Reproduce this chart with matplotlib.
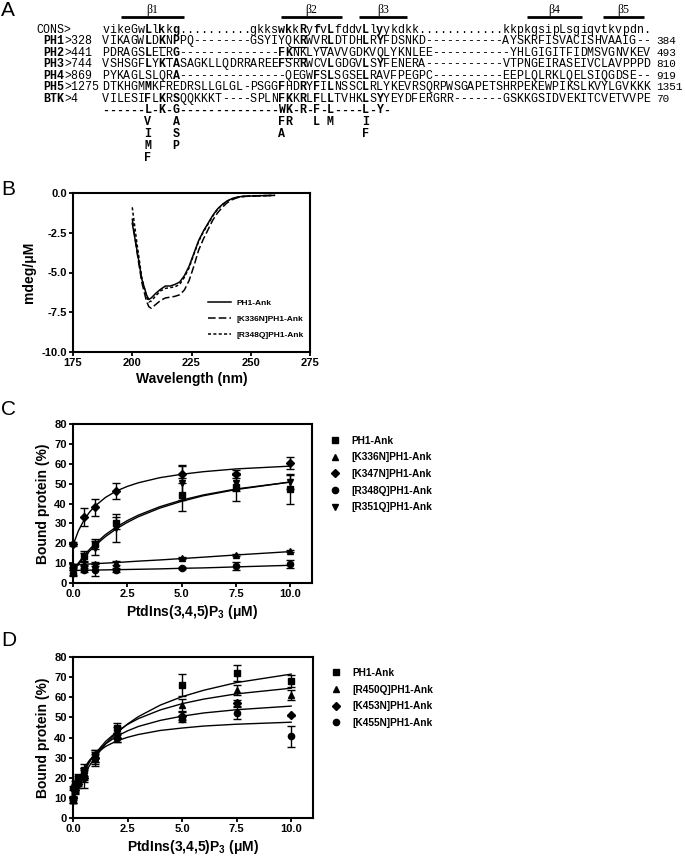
import matplotlib
matplotlib.use('Agg')
import matplotlib.pyplot as plt
from matplotlib.lines import Line2D

plt.rcParams['font.family'] = ['Liberation Sans', 'DejaVu Sans']
plt.rcParams['font.weight'] = 'bold'
plt.rcParams['axes.labelweight'] = 'bold'
plt.rcParams['mathtext.fontset'] = 'custom'
plt.rcParams['mathtext.rm'] = 'Liberation Sans:bold'
plt.rcParams['mathtext.default'] = 'rm'

# ---------------- panel A: alignment ----------------
seq_names = ['CONS', 'PH1', 'PH2', 'PH3', 'PH4', 'PH5', 'BTK']
seq_starts = ['', '328', '441', '744', '869', '1275', '4']
seq_ends = ['', '384', '493', '810', '919', '1351', '70']
seqs = [
    'vikeGwLlkkg..........gkkswkkRyfvLfddvLlyykdkk............kkpkgsipLsgiqvtkvpdn.',
    'VIKAGWLDKNPPQ--------GSYIYQKRWVRLDTDHLRYFDSNKD-----------AYSKRFISVACISHVAAIG--',
    'PDRAGSLELRG--------------FKNKLYVAVVGDKVQLYKNLEE-----------YHLGIGITFIDMSVGNVKEV',
    'VSHSGFLYKTASAGKLLQDRRAREEFSRRWCVLGDGVLSYFENERA-----------VTPNGEIRASEIVCLAVPPPD',
    'PYKAGLSLQRA---------------QEGWFSLSGSELRAVFPEGPC----------EEPLQLRKLQELSIQGDSE--',
    'DTKHGMMKFREDRSLLGLGL-PSGGFHDRYFILNSSCLRLYKEVRSQRPWSGAPETSHRPEKEWPIKSLKVYLGVKKK',
    'VILESIFLKRSQQKKKT----SPLNFKKRLFLLTVHKLSYYEYDFERGRR-------GSKKGSIDVEKITCVETVVPE',
]
consensus_rows = [
    '------L-K-G--------------WK-R-F-L----L-Y-',
    '      V   A              FR   L M    I',
    '      I   S              A           F',
    '      M   P',
    '      F',
]
# underlined residues: (row index, column)
underlined = [(1, 9), (1, 28), (1, 29), (1, 32), (2, 10), (2, 27), (2, 29)]
# beta strands as column spans
strand_names = ['β1', 'β2', 'β3', 'β4', 'β5']
strand_cols = [(2.6, 11.6), (25.5, 34.1), (36.6, 43.4), (60.5, 68.3), (71.3, 77.1)]

# ---------------- panel B: CD spectra ----------------
wavelength = [200, 202, 204, 206, 207, 208, 210, 212, 214, 216, 218, 220, 222, 224,
              226, 228, 230, 232, 234, 236, 238, 240, 242, 244, 246, 248, 250, 254, 260]
cd_ph1 = [-1.9, -3.6, -5.4, -6.4, -6.7, -6.6, -6.3, -6.05, -5.85, -5.85, -5.75, -5.6, -5.2, -4.6,
          -3.8, -3.0, -2.4, -1.9, -1.4, -1.0, -0.72, -0.5, -0.36, -0.27, -0.22, -0.2, -0.19, -0.17, -0.15]
cd_k336n = [-1.6, -3.7, -5.6, -6.8, -7.15, -7.25, -7.0, -6.75, -6.6, -6.55, -6.5, -6.4, -6.1, -5.5,
            -4.6, -3.6, -2.9, -2.3, -1.7, -1.25, -0.9, -0.62, -0.43, -0.31, -0.24, -0.21, -0.2, -0.18, -0.15]
cd_r348q = [-0.9, -3.2, -5.3, -6.5, -6.85, -6.8, -6.45, -6.15, -6.0, -5.95, -5.9, -5.75, -5.3, -4.7,
            -3.85, -3.05, -2.45, -1.95, -1.45, -1.02, -0.74, -0.52, -0.37, -0.28, -0.22, -0.2, -0.19, -0.17, -0.15]
cd_labels = ['PH1-Ank', '[K336N]PH1-Ank', '[R348Q]PH1-Ank']

# ---------------- panel C ----------------
conc_c = [0, 0.5, 1, 2, 5, 7.5, 10]
c_ph1 = [8, 13.5, 19.5, 30, 44.5, 48.5, 47.5]
c_ph1_err = [1.5, 2.5, 2.5, 3, 8.5, 7, 7.5]
c_k336n = [8.5, 9.5, 9.5, 10, 12.5, 14, 16]
c_k336n_err = [1, 1, 1, 1, 0.5, 0.5, 0.5]
c_k347n = [19.5, 33, 38, 46.5, 55, 55, 60.5]
c_k347n_err = [1, 4.5, 4.5, 4, 4.5, 2, 3]
c_r348q = [5, 6.5, 6.5, 6.5, 7.5, 8.5, 9.5]
c_r348q_err = [1.5, 1, 3, 1, 0.5, 2, 2]
c_r351q = [6, 12, 17.5, 27.5, 50.5, 50.5, 51]
c_r351q_err = [2, 3, 3.5, 7, 8.5, 4, 3.5]
c_labels = ['PH1-Ank', '[K336N]PH1-Ank', '[K347N]PH1-Ank', '[R348Q]PH1-Ank', '[R351Q]PH1-Ank']

fit_x = [0, 0.25, 0.5, 0.75, 1, 1.5, 2, 2.5, 3, 4, 5, 6, 7.5, 10]
cfit_ph1 = [6.0, 10.1, 13.7, 16.8, 19.6, 24.4, 28.2, 31.4, 34.1, 38.4, 41.7, 44.3, 47.3, 50.8]
cfit_k336n = [9.0, 9.2, 9.4, 9.55, 9.7, 10.0, 10.3, 10.65, 11.0, 11.6, 12.3, 13.0, 14.1, 15.8]
cfit_k347n = [19.0, 26.3, 31.5, 35.5, 38.6, 43.1, 46.3, 48.6, 50.4, 53.0, 54.7, 56.0, 57.4, 58.8]
cfit_r348q = [6.3, 6.35, 6.4, 6.45, 6.5, 6.6, 6.7, 6.8, 6.9, 7.1, 7.4, 7.6, 8.1, 8.9]
cfit_r351q = [5.5, 9.4, 12.9, 15.9, 18.7, 23.4, 27.3, 30.5, 33.3, 37.7, 41.1, 43.9, 47.0, 50.8]

# ---------------- panel D ----------------
conc_d = [0, 0.1, 0.25, 0.5, 1, 2, 5, 7.5, 10]
d_ph1 = [9, 15, 20, 24, 31, 44.5, 66, 72, 68]
d_ph1_err = [1.5, 2, 2, 3, 3, 2.5, 5.5, 4, 3]
d_r450q = [9, 14, 18, 22, 30, 43, 56, 63.5, 61]
d_r450q_err = [1.5, 2, 2, 3, 4, 2, 3, 2.5, 2.5]
d_k453n = [10, 14, 17, 20, 30, 40, 50.5, 57, 51]
d_k453n_err = [1, 1.5, 2, 5, 3, 2, 2, 1.5, 0.3]
d_k455n = [15, 17, 19, 21, 30, 40, 49, 52, 40.5]
d_k455n_err = [1, 1.5, 2, 3, 2, 2, 1.5, 3, 5]
d_labels = ['PH1-Ank', '[R450Q]PH1-Ank', '[K453N]PH1-Ank', '[K455N]PH1-Ank']

dfit_ph1 = [9.0, 15.6, 21.1, 25.9, 30.0, 36.9, 42.3, 46.7, 50.4, 56.1, 60.3, 63.5, 67.3, 71.5]
dfit_r450q = [9.0, 16.7, 22.75, 27.7, 31.8, 38.1, 42.8, 46.5, 49.4, 53.7, 56.8, 59.1, 61.7, 64.5]
dfit_k453n = [10.0, 17.9, 23.7, 28.1, 31.7, 36.9, 40.6, 43.3, 45.5, 48.5, 50.6, 52.2, 53.8, 55.6]
dfit_k455n = [10.0, 18.9, 24.6, 28.6, 31.6, 35.6, 38.3, 40.1, 41.5, 43.5, 44.7, 45.7, 46.6, 47.6]

W, H = 685, 857
fig = plt.figure(figsize=(W / 100, H / 100), dpi=100)

# overlay axes in pixel coordinates for panel A and panel letters
axA = fig.add_axes([0, 0, 1, 1])
axA.set_xlim(0, W)
axA.set_ylim(H, 0)
axA.axis('off')
axA.patch.set_visible(False)

for lab, y in zip('ABCD', [1, 180, 400, 631]):
    axA.text(1, y, lab, fontsize=15, fontweight='normal', va='top', ha='left')

mono = 'Liberation Mono'
x0, cw, fs = 102.3, 7.02, 8.4

def colx(c):
    return x0 + (c - 0.5) * cw

# allowed residues per column, from consensus rows
allowed = {}
for row in consensus_rows:
    for i, ch in enumerate(row):
        if ch not in '- ':
            allowed.setdefault(i + 1, set()).add(ch)

row_y = [29.5 + 11.55 * i for i in range(len(seqs))]
for r, (name, st, en, s) in enumerate(zip(seq_names, seq_starts, seq_ends, seqs)):
    y = row_y[r]
    if r == 0:
        axA.text(36.7, y, name + '>', family=mono, fontsize=fs, fontweight='normal',
                 va='center', ha='left')
    else:
        axA.text(43.3, y, name, family=mono, fontsize=fs, fontweight='bold',
                 va='center', ha='left')
        axA.text(43.3 + 3 * cw, y, '>' + st, family=mono, fontsize=fs,
                 fontweight='normal', va='center', ha='left')
        axA.text(656.5, y, en, family=mono, fontsize=7.9, fontweight='normal',
                 va='center', ha='left')
    for i, ch in enumerate(s):
        c = i + 1
        bold = c in allowed and ch.upper() in allowed[c]
        axA.text(colx(c), y, ch, family=mono, fontsize=fs,
                 fontweight='bold' if bold else 'normal', va='center', ha='center')

for r, c in underlined:
    y = row_y[r] + 5.5
    axA.plot([colx(c) - 3.4, colx(c) + 3.4], [y, y], color='k', lw=0.8)

cons_y = [110.4, 122, 134, 146, 158]
for row, y in zip(consensus_rows, cons_y):
    for i, ch in enumerate(row):
        if ch != ' ':
            axA.text(colx(i + 1), y, ch, family=mono, fontsize=fs, fontweight='bold',
                     va='center', ha='center')

for nm, (a, b) in zip(strand_names, strand_cols):
    xa, xb = x0 + a * cw, x0 + b * cw
    axA.plot([xa, xb], [16.5, 16.5], color='k', lw=2.0, solid_capstyle='butt')
    axA.text((xa + xb) / 2, 9.5, nm, family=['Liberation Serif', 'DejaVu Serif'],
             fontsize=8.5, fontweight='normal', ha='center', va='center')


def style_axes(ax):
    for sp in ax.spines.values():
        sp.set_linewidth(1.5)
    ax.tick_params(axis='both', which='major', direction='out', length=3, width=1.3,
                   labelsize=8, top=False, right=False, pad=1.5)
    for t in ax.get_xticklabels() + ax.get_yticklabels():
        t.set_fontweight('bold')


# ---------------- panel B ----------------
axB = fig.add_axes([73 / W, 1 - 352 / H, 237 / W, 159 / H])
axB.plot(wavelength, cd_ph1, color='k', lw=1.1, ls='-', label=cd_labels[0])
axB.plot(wavelength, cd_k336n, color='k', lw=1.1, ls=(0, (5, 2)), label=cd_labels[1])
axB.plot(wavelength, cd_r348q, color='k', lw=1.1, ls=(0, (2, 1.5)), label=cd_labels[2])
axB.set_xlim(175, 275)
axB.set_ylim(-10, 0)
axB.set_xticks([175, 200, 225, 250, 275])
axB.set_yticks([-10, -7.5, -5, -2.5, 0])
axB.set_yticklabels(['-10.0', '-7.5', '-5.0', '-2.5', '0.0'])
axB.set_xlabel('Wavelength (nm)', fontsize=10, labelpad=3)
axB.set_ylabel('mdeg/μM', fontsize=10, labelpad=4)
style_axes(axB)
axB.legend(loc='center left', bbox_to_anchor=(208 / W, 1 - 319 / H),
           bbox_transform=fig.transFigure, frameon=False, fontsize=6,
           borderpad=0, borderaxespad=0, handlelength=2.8, handletextpad=0.6,
           labelspacing=1.0)

# ---------------- panel C ----------------
marks = ['s', '^', 'D', 'o', 'v']
msizes = [4.5, 5, 3.8, 4.5, 5]

axC = fig.add_axes([73 / W, 1 - 583 / H, 239 / W, 159 / H])
c_series = [(c_ph1, c_ph1_err, cfit_ph1), (c_k336n, c_k336n_err, cfit_k336n),
            (c_k347n, c_k347n_err, cfit_k347n), (c_r348q, c_r348q_err, cfit_r348q),
            (c_r351q, c_r351q_err, cfit_r351q)]
for (yv, ev, fv), m, ms in zip(c_series, marks, msizes):
    axC.plot(fit_x, fv, color='k', lw=1.0)
    axC.errorbar(conc_c, yv, yerr=ev, fmt=m, color='k', ms=ms, elinewidth=1.0,
                 capsize=3, capthick=1.0, clip_on=False)
axC.set_xlim(0, 11)
axC.set_ylim(0, 80)
axC.set_xticks([0, 2.5, 5, 7.5, 10])
axC.set_xticklabels(['0.0', '2.5', '5.0', '7.5', '10.0'])
axC.set_yticks(range(0, 81, 10))
axC.set_xlabel('PtdIns(3,4,5)P$_3$ (μM)', fontsize=10, labelpad=3)
axC.set_ylabel('Bound protein (%)', fontsize=10, labelpad=3)
style_axes(axC)
hC = [Line2D([], [], marker=m, ls='none', color='k', ms=ms) for m, ms in zip(marks, msizes)]
axC.legend(hC, c_labels, loc='center left', bbox_to_anchor=(330 / W, 1 - 474 / H),
           bbox_transform=fig.transFigure, frameon=False, fontsize=7.3,
           borderpad=0, borderaxespad=0, handlelength=1.0, handletextpad=1.1,
           labelspacing=0.66)

# ---------------- panel D ----------------
axD = fig.add_axes([73 / W, 1 - 818 / H, 240 / W, 161 / H])
d_series = [(d_ph1, d_ph1_err, dfit_ph1), (d_r450q, d_r450q_err, dfit_r450q),
            (d_k453n, d_k453n_err, dfit_k453n), (d_k455n, d_k455n_err, dfit_k455n)]
for (yv, ev, fv), m, ms in zip(d_series, marks[:4], msizes[:4]):
    axD.plot(fit_x, fv, color='k', lw=1.0)
    axD.errorbar(conc_d, yv, yerr=ev, fmt=m, color='k', ms=ms, elinewidth=1.0,
                 capsize=3, capthick=1.0, clip_on=False)
axD.set_xlim(0, 11)
axD.set_ylim(0, 80)
axD.set_xticks([0, 2.5, 5, 7.5, 10])
axD.set_xticklabels(['0.0', '2.5', '5.0', '7.5', '10.0'])
axD.set_yticks(range(0, 81, 10))
axD.set_xlabel('PtdIns(3,4,5)P$_3$ (μM)', fontsize=10, labelpad=3)
axD.set_ylabel('Bound protein (%)', fontsize=10, labelpad=3)
style_axes(axD)
hD = [Line2D([], [], marker=m, ls='none', color='k', ms=ms) for m, ms in zip(marks[:4], msizes[:4])]
axD.legend(hD, d_labels, loc='center left', bbox_to_anchor=(331 / W, 1 - 698 / H),
           bbox_transform=fig.transFigure, frameon=False, fontsize=7.3,
           borderpad=0, borderaxespad=0, handlelength=1.0, handletextpad=1.1,
           labelspacing=0.66)

fig.savefig('out.png', dpi=100)
